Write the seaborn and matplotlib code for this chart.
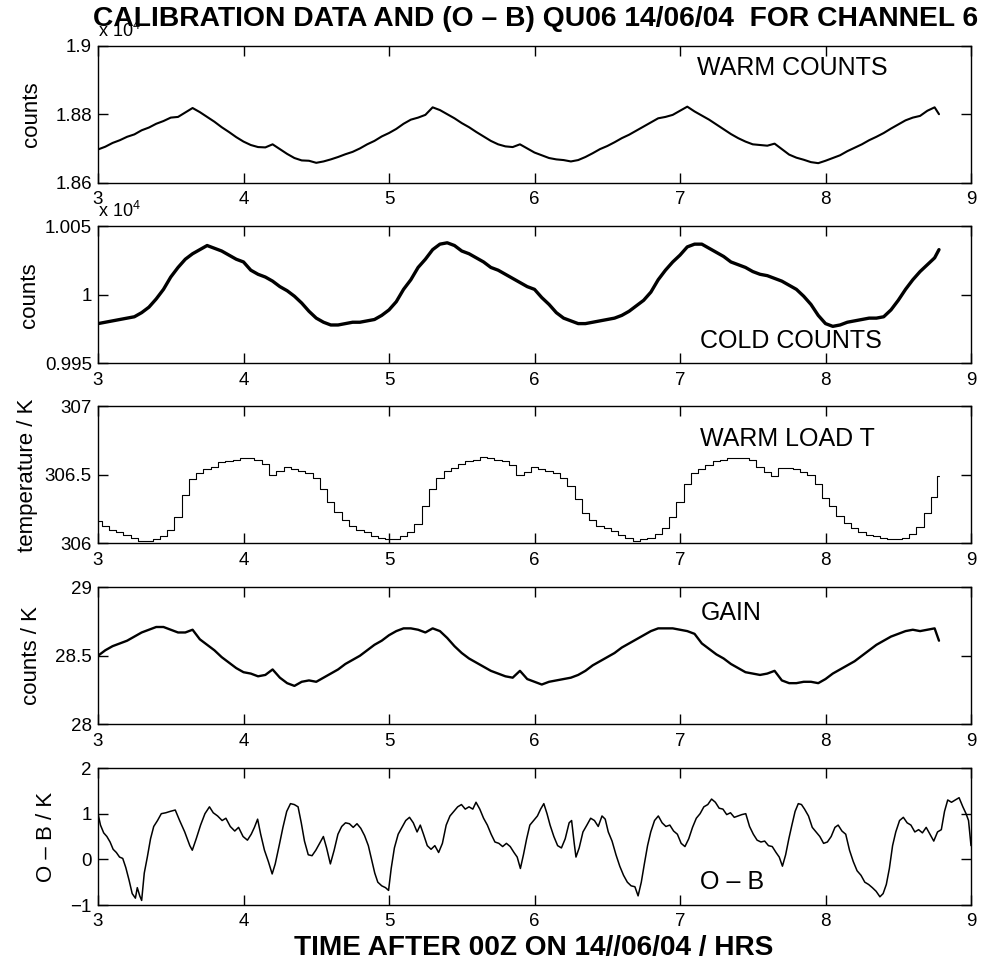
import numpy as np
import pandas as pd
import seaborn as sns
import matplotlib
matplotlib.use("Agg")
import matplotlib.pyplot as plt
from matplotlib.ticker import FuncFormatter

# tijd-as voor de kalibratie data (uur na 00Z), laatste punt bij 8.78
t_cal = list(np.round(np.arange(3.0, 8.76, 0.05), 2)) + [8.78]

warm_counts = [
    18697, 18705, 18716, 18724, 18734, 18741, 18753, 18761, 18772, 18780,
    18790, 18792, 18805, 18818, 18806, 18792, 18778, 18762, 18748, 18733,
    18720, 18710, 18704, 18703, 18712, 18698, 18684, 18672, 18665, 18664,
    18658, 18662, 18668, 18675, 18683, 18690, 18700, 18712, 18722, 18735,
    18745, 18757, 18772, 18784, 18790, 18798, 18820, 18812, 18800, 18788,
    18774, 18762, 18748, 18735, 18722, 18712, 18706, 18704, 18712, 18700,
    18688, 18680, 18672, 18668, 18666, 18662, 18666, 18675, 18686, 18698,
    18707, 18718, 18730, 18740, 18752, 18764, 18776, 18788, 18792, 18798,
    18810, 18822, 18808, 18796, 18784, 18770, 18756, 18742, 18730, 18720,
    18712, 18710, 18708, 18714, 18698, 18682, 18673, 18667, 18660, 18657,
    18664, 18672, 18680, 18692, 18702, 18712, 18724, 18734, 18745, 18758,
    18770, 18782, 18790, 18795, 18810, 18820,
    18800]

cold_counts = [
    9979, 9980, 9981, 9982, 9983, 9984, 9987, 9991, 9997, 10004,
    10013, 10020, 10026, 10030, 10033, 10036, 10034, 10032, 10029, 10026,
    10024, 10018, 10015, 10013, 10010, 10006, 10003, 9999, 9994, 9988,
    9983, 9980, 9978, 9978, 9979, 9980, 9980, 9981, 9982, 9985,
    9989, 9995, 10004, 10011, 10020, 10026, 10033, 10037, 10038, 10036,
    10032, 10030, 10027, 10024, 10020, 10018, 10015, 10012, 10009, 10006,
    10004, 9998, 9993, 9987, 9983, 9981, 9979, 9979, 9980, 9981,
    9982, 9983, 9985, 9988, 9992, 9996, 10002, 10011, 10018, 10024,
    10029, 10035, 10037, 10037, 10034, 10031, 10028, 10024, 10022, 10020,
    10017, 10015, 10014, 10012, 10010, 10007, 10004, 9999, 9993, 9985,
    9979, 9977, 9978, 9980, 9981, 9982, 9983, 9983, 9984, 9989,
    9996, 10004, 10011, 10017, 10022, 10027,
    10033]

warm_load_t = [
    306.16, 306.13, 306.10, 306.08, 306.06, 306.04, 306.02, 306.02, 306.03, 306.05,
    306.10, 306.19, 306.35, 306.47, 306.51, 306.54, 306.56, 306.59, 306.60, 306.61,
    306.62, 306.62, 306.61, 306.58, 306.50, 306.53, 306.56, 306.54, 306.53, 306.51,
    306.48, 306.40, 306.30, 306.23, 306.17, 306.13, 306.10, 306.08, 306.05, 306.04,
    306.03, 306.03, 306.05, 306.08, 306.14, 306.27, 306.40, 306.48, 306.53, 306.55,
    306.58, 306.60, 306.61, 306.63, 306.62, 306.61, 306.60, 306.57, 306.50, 306.52,
    306.56, 306.54, 306.53, 306.51, 306.48, 306.42, 306.32, 306.22, 306.17, 306.13,
    306.11, 306.09, 306.06, 306.04, 306.02, 306.03, 306.04, 306.07, 306.11, 306.19,
    306.30, 306.43, 306.51, 306.54, 306.57, 306.60, 306.61, 306.62, 306.62, 306.62,
    306.61, 306.56, 306.52, 306.49, 306.55, 306.55, 306.54, 306.52, 306.50, 306.43,
    306.33, 306.27, 306.20, 306.15, 306.11, 306.08, 306.06, 306.05, 306.04, 306.03,
    306.03, 306.04, 306.07, 306.12, 306.22, 306.34,
    306.49]

gain = [
    28.50, 28.54, 28.57, 28.59, 28.61, 28.64, 28.67, 28.69, 28.71, 28.71,
    28.69, 28.67, 28.67, 28.69, 28.62, 28.58, 28.54, 28.49, 28.45, 28.41,
    28.38, 28.37, 28.35, 28.36, 28.40, 28.34, 28.30, 28.28, 28.31, 28.32,
    28.31, 28.34, 28.37, 28.40, 28.44, 28.47, 28.50, 28.54, 28.58, 28.61,
    28.65, 28.68, 28.70, 28.70, 28.69, 28.67, 28.70, 28.68, 28.63, 28.57,
    28.52, 28.48, 28.45, 28.42, 28.39, 28.37, 28.35, 28.34, 28.39, 28.33,
    28.31, 28.29, 28.31, 28.32, 28.33, 28.34, 28.36, 28.39, 28.43, 28.46,
    28.49, 28.52, 28.56, 28.59, 28.62, 28.65, 28.68, 28.70, 28.70, 28.70,
    28.69, 28.68, 28.66, 28.59, 28.55, 28.51, 28.48, 28.44, 28.41, 28.38,
    28.37, 28.36, 28.37, 28.39, 28.32, 28.30, 28.30, 28.31, 28.31, 28.30,
    28.33, 28.37, 28.40, 28.43, 28.46, 28.50, 28.54, 28.58, 28.61, 28.64,
    28.66, 28.68, 28.69, 28.68, 28.69, 28.70,
    28.61]

t_ob = [
    3.000, 3.017, 3.039, 3.061, 3.083, 3.104, 3.126, 3.148, 3.170, 3.191,
    3.213, 3.235, 3.257, 3.270, 3.287, 3.300, 3.318, 3.339, 3.361, 3.383,
    3.409, 3.435, 3.466, 3.496, 3.531, 3.561, 3.596, 3.631, 3.648, 3.675,
    3.705, 3.735, 3.766, 3.792, 3.822, 3.853, 3.879, 3.909, 3.940, 3.966,
    3.997, 4.027, 4.053, 4.075, 4.097, 4.118, 4.144, 4.171, 4.197, 4.218,
    4.245, 4.271, 4.297, 4.323, 4.349, 4.375, 4.397, 4.419, 4.445, 4.471,
    4.497, 4.523, 4.549, 4.571, 4.597, 4.623, 4.649, 4.675, 4.701, 4.728,
    4.754, 4.780, 4.806, 4.832, 4.858, 4.880, 4.902, 4.923, 4.950, 4.976,
    4.997, 5.015, 5.037, 5.063, 5.089, 5.115, 5.141, 5.167, 5.193, 5.215,
    5.237, 5.263, 5.289, 5.315, 5.341, 5.367, 5.393, 5.419, 5.446, 5.472,
    5.498, 5.524, 5.550, 5.576, 5.598, 5.624, 5.650, 5.676, 5.702, 5.728,
    5.755, 5.781, 5.807, 5.833, 5.859, 5.881, 5.903, 5.924, 5.946, 5.968,
    5.994, 6.020, 6.042, 6.064, 6.086, 6.107, 6.133, 6.159, 6.185, 6.211,
    6.238, 6.255, 6.273, 6.285, 6.307, 6.333, 6.360, 6.386, 6.412, 6.438,
    6.464, 6.486, 6.507, 6.533, 6.560, 6.586, 6.612, 6.638, 6.664, 6.690,
    6.712, 6.734, 6.755, 6.777, 6.799, 6.825, 6.851, 6.877, 6.903, 6.930,
    6.956, 6.982, 7.008, 7.034, 7.060, 7.086, 7.112, 7.138, 7.164, 7.191,
    7.217, 7.243, 7.269, 7.295, 7.321, 7.347, 7.373, 7.399, 7.425, 7.452,
    7.478, 7.504, 7.530, 7.556, 7.582, 7.608, 7.634, 7.660, 7.682, 7.704,
    7.726, 7.748, 7.769, 7.791, 7.813, 7.835, 7.856, 7.883, 7.909, 7.935,
    7.961, 7.987, 8.013, 8.039, 8.065, 8.087, 8.113, 8.139, 8.165, 8.191,
    8.217, 8.244, 8.270, 8.296, 8.322, 8.348, 8.374, 8.396, 8.418, 8.439,
    8.461, 8.483, 8.509, 8.535, 8.561, 8.587, 8.614, 8.640, 8.666, 8.692,
    8.718, 8.744, 8.770, 8.796, 8.818, 8.840, 8.866, 8.892, 8.918, 8.944,
    8.966, 8.983, 9.000]

o_min_b = [
    1.00, 0.75, 0.58, 0.50, 0.38, 0.22, 0.15, 0.05, 0.02, -0.18,
    -0.45, -0.75, -0.85, -0.62, -0.80, -0.90, -0.30, 0.05, 0.45, 0.72,
    0.85, 1.00, 1.02, 1.05, 1.08, 0.85, 0.60, 0.30, 0.20, 0.45,
    0.75, 1.00, 1.15, 1.02, 0.95, 0.85, 0.90, 0.72, 0.62, 0.70,
    0.50, 0.42, 0.55, 0.70, 0.88, 0.55, 0.20, -0.05, -0.32, -0.10,
    0.30, 0.70, 1.05, 1.22, 1.20, 1.15, 0.80, 0.40, 0.10, 0.08,
    0.20, 0.35, 0.50, 0.25, -0.10, 0.20, 0.55, 0.72, 0.80, 0.78,
    0.70, 0.78, 0.68, 0.52, 0.30, 0.00, -0.30, -0.50, -0.58, -0.62,
    -0.68, -0.20, 0.25, 0.55, 0.70, 0.85, 0.92, 0.80, 0.60, 0.75,
    0.55, 0.30, 0.22, 0.30, 0.15, 0.35, 0.75, 0.95, 1.05, 1.15,
    1.20, 1.10, 1.15, 1.10, 1.25, 1.10, 0.90, 0.75, 0.55, 0.38,
    0.35, 0.28, 0.35, 0.28, 0.15, 0.05, -0.20, 0.10, 0.45, 0.75,
    0.85, 0.95, 1.10, 1.22, 1.00, 0.75, 0.50, 0.30, 0.25, 0.45,
    0.80, 0.85, 0.35, 0.05, 0.25, 0.60, 0.75, 0.90, 0.85, 0.72,
    0.95, 0.88, 0.60, 0.40, 0.10, -0.15, -0.35, -0.50, -0.58, -0.60,
    -0.80, -0.50, -0.10, 0.30, 0.60, 0.85, 0.95, 0.80, 0.72, 0.75,
    0.62, 0.55, 0.35, 0.28, 0.45, 0.70, 0.90, 1.00, 1.15, 1.20,
    1.32, 1.25, 1.12, 1.10, 0.98, 1.02, 0.92, 0.95, 0.98, 1.00,
    0.72, 0.55, 0.42, 0.38, 0.40, 0.30, 0.28, 0.15, 0.05, -0.15,
    0.10, 0.45, 0.75, 1.05, 1.22, 1.20, 1.10, 0.95, 0.70, 0.60,
    0.50, 0.35, 0.38, 0.50, 0.70, 0.75, 0.62, 0.55, 0.20, -0.05,
    -0.25, -0.35, -0.50, -0.55, -0.62, -0.70, -0.82, -0.75, -0.55, -0.20,
    0.30, 0.60, 0.85, 0.92, 0.80, 0.75, 0.60, 0.65, 0.58, 0.70,
    0.55, 0.40, 0.60, 0.65, 1.05, 1.30, 1.25, 1.30, 1.35, 1.15,
    1.00, 0.85, 0.30]

panel_names = ['WARM COUNTS', 'COLD COUNTS', 'WARM LOAD T', 'GAIN', 'O \u2013 B']
y_labels = ['counts', 'counts', 'temperature / K', 'counts / K', 'O \u2013 B / K']
y_limits = [(18600, 19000), (9950, 10050), (306, 307), (28, 29), (-1, 2)]
y_ticks = [[18600, 18800, 19000], [9950, 10000, 10050], [306, 306.5, 307],
           [28, 28.5, 29], [-1, 0, 1, 2]]
y_scale = [1e4, 1e4, 1, 1, 1]
x_ticks = [3, 4, 5, 6, 7, 8, 9]
# positie van de tekst in elk paneel (data coordinaten)
label_pos = [(7.12, 18935), (7.14, 9966), (7.14, 306.76), (7.14, 28.81), (7.14, -0.49)]
ylabel_x = [-0.064, -0.066, -0.069, -0.064, -0.047]
# lijndikte per paneel (ruis maakt de band dikker)
line_w = [1.5, 2.4, 0.8, 1.7, 1.1]

sns.set_style('white')
plt.rcParams['font.family'] = ['Liberation Sans', 'DejaVu Sans']
plt.rcParams['mathtext.default'] = 'regular'
plt.rcParams['axes.linewidth'] = 1.0
plt.rcParams['axes.edgecolor'] = 'black'
plt.rcParams['text.color'] = 'black'
plt.rcParams['axes.labelcolor'] = 'black'

fig = plt.figure(figsize=(9.82, 9.64), dpi=100)
bottoms = [0.8105, 0.6231, 0.4364, 0.2487, 0.0612]

series = [
    (t_cal, warm_counts, {}),
    (t_cal, cold_counts, {}),
    (t_cal, warm_load_t, {'drawstyle': 'steps-mid'}),
    (t_cal, gain, {}),
    (t_ob, o_min_b, {}),
]

for i in range(5):
    ax = fig.add_axes([0.0998, bottoms[i], 0.889, 0.1421])
    tx, vals, kw = series[i]
    df = pd.DataFrame({'t': tx, 'v': vals})
    sns.lineplot(data=df, x='t', y='v', ax=ax, color='black', linewidth=line_w[i],
                 estimator=None, **kw)
    ax.set_xlim(3, 9)
    ax.set_ylim(*y_limits[i])
    ax.set_xticks(x_ticks)
    ax.set_yticks(y_ticks[i])
    sc = y_scale[i]
    ax.yaxis.set_major_formatter(FuncFormatter(
        lambda v, p, sc=sc: ('%g' % (v / sc)).replace('-', '\u2212')))
    ax.xaxis.set_major_formatter(FuncFormatter(lambda v, p: '%g' % v))
    ax.tick_params(direction='in', length=7, width=1.0, top=True, right=True,
                   bottom=True, left=True, labelsize=13.5, colors='black')
    ax.tick_params(axis='x', pad=6)
    ax.tick_params(axis='y', pad=4.5)
    ax.set_xlabel('')
    ax.set_ylabel(y_labels[i], fontsize=16)
    ax.yaxis.set_label_coords(ylabel_x[i], 0.5)
    for s in ax.spines.values():
        s.set_visible(True)
        s.set_color('black')
    ax.text(label_pos[i][0], label_pos[i][1], panel_names[i], fontsize=18,
            ha='left', va='center')
    if sc != 1:
        # vermenigvuldiger linksboven het paneel, zoals in matlab
        ax.text(0.0, 1.11, 'x 10$^4$', transform=ax.transAxes, fontsize=13,
                ha='left', va='center')

fig.text(0.5453, 1 - 18.5 / 964, 'CALIBRATION DATA AND (O \u2013 B) QU06 14/06/04  FOR CHANNEL 6',
         ha='center', va='center', fontsize=20.3, fontweight='bold')
fig.text(0.5438, 0.0161, 'TIME AFTER 00Z ON 14//06/04 / HRS',
         ha='center', va='center', fontsize=20.2, fontweight='bold')

fig.savefig('out.png', dpi=100, facecolor='white')
